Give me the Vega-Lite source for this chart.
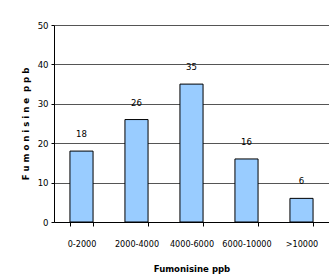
{
  "$schema": "https://vega.github.io/schema/vega-lite/v6.json",
  "width": 275,
  "height": 197,
  "autosize": {"type": "none"},
  "padding": {"left": 54, "top": 25, "right": 0, "bottom": 58},
  "background": "white",
  "config": {
    "view": {"stroke": null},
    "font": "'DejaVu Sans Condensed', 'Liberation Sans', sans-serif"
  },
  "data": {
    "values": [
      {"range": "0-2000", "count": 18},
      {"range": "2000-4000", "count": 26},
      {"range": "4000-6000", "count": 35},
      {"range": "6000-10000", "count": 16},
      {"range": ">10000", "count": 6}
    ]
  },
  "encoding": {
    "x": {
      "field": "range",
      "type": "nominal",
      "sort": null,
      "scale": {"paddingInner": 0.58, "paddingOuter": 0.29},
      "axis": {
        "title": "Fumonisine ppb",
        "labelAngle": 0,
        "labelFontSize": 9,
        "labelColor": "black",
        "labelPadding": 13,
        "titleFontSize": 9.5,
        "titleFontWeight": "bold",
        "titleColor": "black",
        "titlePadding": 15,
        "domainColor": "black",
        "tickColor": "black",
        "tickBand": "extent",
        "tickSize": 4
      }
    },
    "y": {
      "field": "count",
      "type": "quantitative",
      "scale": {"domain": [0, 50], "nice": false},
      "axis": {
        "title": "F u m o n i s i n e\u00a0\u00a0p p b",
        "values": [0, 10, 20, 30, 40, 50],
        "labelFontSize": 9.5,
        "labelColor": "black",
        "labelPadding": 3,
        "titleFontSize": 9.5,
        "titleFontWeight": "bold",
        "titleColor": "black",
        "titlePadding": 7,
        "domainColor": "black",
        "tickColor": "black",
        "tickSize": 3,
        "grid": true,
        "gridColor": "#555555",
        "gridWidth": 1
      }
    }
  },
  "layer": [
    {
      "mark": {"type": "bar", "fill": "#99CCFF", "stroke": "black", "strokeWidth": 1}
    },
    {
      "mark": {"type": "text", "baseline": "bottom", "dy": -12, "fontSize": 9.5, "color": "black"},
      "encoding": {"text": {"field": "count", "type": "quantitative"}}
    }
  ]
}
